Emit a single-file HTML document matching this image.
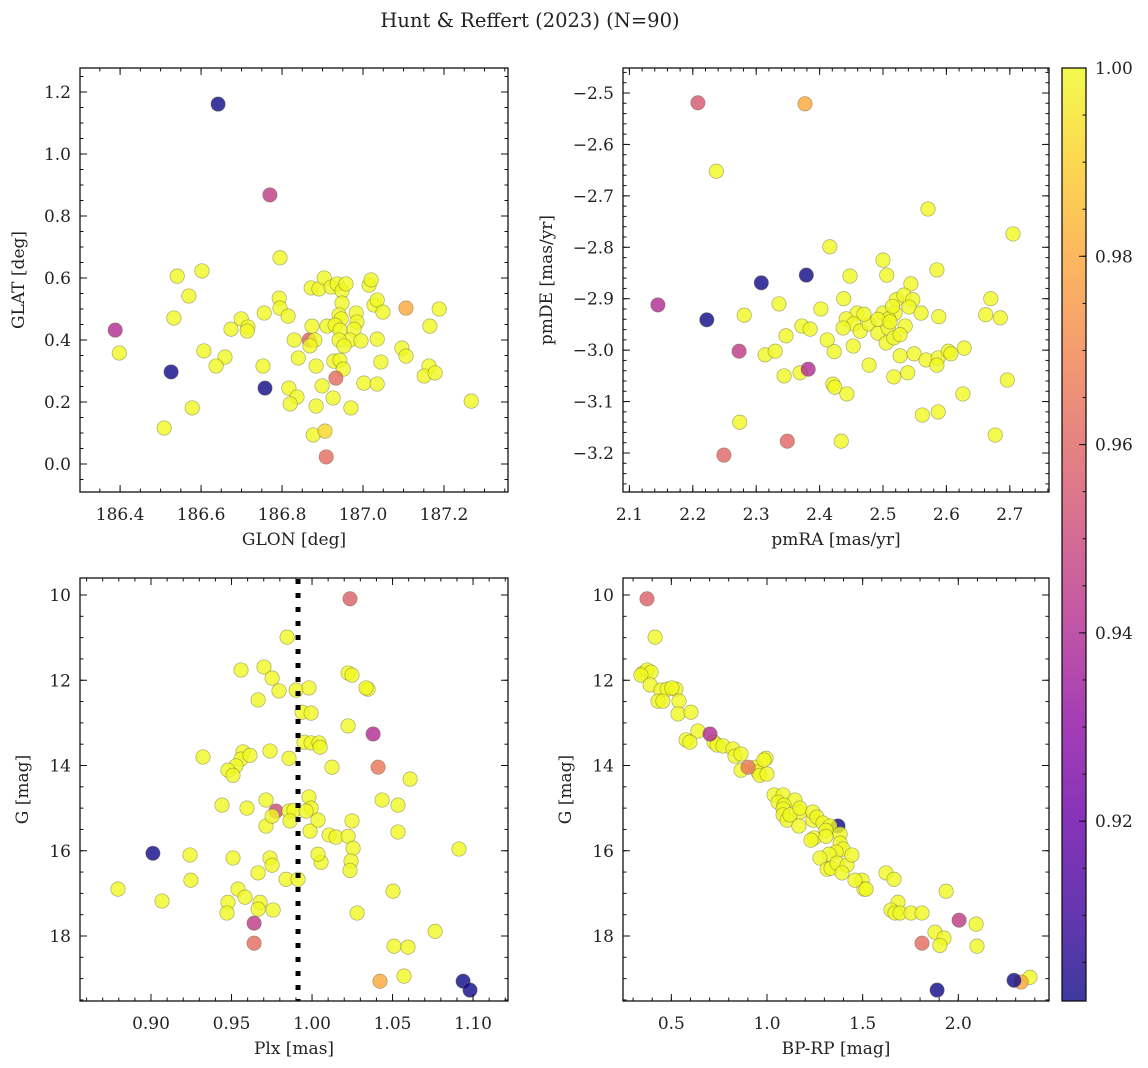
<!DOCTYPE html>
<html><head><meta charset="utf-8"><style>
html,body{margin:0;padding:0;background:#fff;}
svg{display:block;font-family:"DejaVu Serif","Liberation Serif",serif;}
</style></head><body>
<svg id="fig" width="1148" height="1068" viewBox="0 0 1148 1068" xmlns="http://www.w3.org/2000/svg">
<text x="530" y="27" text-anchor="middle" font-size="19.5" fill="#222">Hunt &amp; Reffert (2023) (N=90)</text>
</svg>
<script>
// ---------- Panel 1: GLON vs GLAT ----------
const p1Lon=[186.642,186.77,186.388,186.526,186.758,187.106,186.867,186.933,186.909,186.906,
186.795,186.872,186.891,186.904,186.921,186.936,186.948,186.958,187.015,187.02,186.793,186.795,186.815,186.756,186.948,187.027,187.035,187.049,186.983,186.941,186.946,186.911,186.931,186.943,186.985,186.978,186.968,186.941,186.953,186.995,187.035,186.874,186.83,186.881,186.869,186.84,186.884,186.753,186.928,186.943,186.951,187.044,187.096,187.106,187.165,187.188,187.163,187.151,187.178,187.002,187.035,186.899,186.926,186.817,186.837,186.82,186.884,186.97,186.877,186.659,186.674,186.699,186.716,186.714,186.398,186.509,186.533,186.541,186.57,186.578,186.602,186.607,186.637,187.267];
const p1Lat=[1.161,0.868,0.432,0.297,0.245,0.503,0.4,0.277,0.023,0.106,
0.665,0.568,0.565,0.6,0.571,0.581,0.558,0.581,0.577,0.594,0.535,0.503,0.477,0.487,0.519,0.513,0.529,0.49,0.487,0.481,0.468,0.445,0.448,0.432,0.458,0.435,0.4,0.4,0.381,0.397,0.403,0.445,0.4,0.4,0.381,0.342,0.316,0.316,0.332,0.335,0.306,0.329,0.374,0.348,0.445,0.5,0.316,0.284,0.294,0.261,0.258,0.252,0.213,0.245,0.216,0.194,0.187,0.181,0.094,0.345,0.435,0.468,0.442,0.429,0.358,0.116,0.471,0.606,0.542,0.181,0.623,0.365,0.316,0.203];
const p1Prob=[0.901,0.945,0.94,0.901,0.901,0.98,0.958,0.962,0.962,0.992,
1,1,1,1,1,1,1,1,1,1,1,1,1,1,1,1,1,1,1,1,1,1,1,1,1,1,1,1,1,1,1,1,1,1,1,1,1,1,1,1,1,1,1,1,1,1,1,1,1,1,1,1,1,1,1,1,1,1,1,1,1,1,1,1,1,1,1,1,1,1,1,1,1,1];
const p1XTicks=[186.4,186.6,186.8,187.0,187.2];
const p1YTicks=[0.0,0.2,0.4,0.6,0.8,1.0,1.2];
const p1Under=[6];

// ---------- Panel 2: pmRA vs pmDE ----------
const p2Pmra=[2.308,2.379,2.222,2.273,2.382,2.349,2.249,2.208,2.377,2.145,
2.571,2.705,2.416,2.5,2.506,2.448,2.585,2.544,2.438,2.336,2.281,2.402,2.521,2.533,2.547,2.541,2.56,2.588,2.67,2.662,2.685,2.5,2.519,2.509,2.459,2.442,2.454,2.437,2.464,2.478,2.492,2.508,2.535,2.505,2.517,2.372,2.385,2.347,2.412,2.423,2.453,2.314,2.33,2.478,2.527,2.549,2.568,2.587,2.585,2.603,2.607,2.628,2.344,2.369,2.421,2.424,2.443,2.517,2.539,2.696,2.626,2.562,2.587,2.274,2.434,2.677,2.237,2.492,2.511,2.527,2.47,2.515];
const p2Pmde=[-2.869,-2.854,-2.941,-3.002,-3.037,-3.177,-3.204,-2.519,-2.521,-2.912,
-2.7255,-2.774,-2.799,-2.825,-2.854,-2.856,-2.844,-2.871,-2.9,-2.91,-2.932,-2.92,-2.902,-2.893,-2.902,-2.916,-2.928,-2.935,-2.9,-2.931,-2.937,-2.928,-2.928,-2.939,-2.928,-2.939,-2.949,-2.957,-2.963,-2.949,-2.967,-2.957,-2.953,-2.986,-2.976,-2.953,-2.959,-2.972,-2.98,-3.003,-2.992,-3.009,-3.002,-3.029,-3.011,-3.007,-3.019,-3.015,-3.029,-3.002,-3.007,-2.996,-3.05,-3.044,-3.066,-3.072,-3.085,-3.052,-3.044,-3.058,-3.085,-3.126,-3.12,-3.14,-3.177,-3.165,-2.652,-2.94,-2.945,-2.97,-2.93,-2.915];
const p2Prob=[0.901,0.901,0.901,0.945,0.94,0.96,0.96,0.955,0.98,0.94,
1,1,1,1,1,1,1,1,1,1,1,1,1,1,1,1,1,1,1,1,1,1,1,1,1,1,1,1,1,1,1,1,1,1,1,1,1,1,1,1,1,1,1,1,1,1,1,1,1,1,1,1,1,1,1,1,1,1,1,1,1,1,1,1,1,1,1,1,1,1,1,1];
const p2XTicks=[2.1,2.2,2.3,2.4,2.5,2.6,2.7];
const p2YTicks=[-3.2,-3.1,-3.0,-2.9,-2.8,-2.7,-2.6,-2.5];
const p2Under=[];

// ---------- Panel 3: Plx vs G ----------
const p3Plx=[1.0236,1.0379,1.041,0.9012,0.964,0.964,1.0422,1.0938,1.0981,0.9776,
0.9845,0.9559,0.9702,0.9752,0.9901,0.9795,0.9938,0.9994,0.9665,1.0348,1.0224,1.0248,1.0335,0.9981,0.995,0.9994,1.0043,1.005,1.0224,0.9857,0.9323,0.9571,0.9559,0.9528,0.9478,0.9509,0.9739,1.0124,0.9981,0.9994,0.9441,0.9596,0.9714,0.9752,0.9857,0.9888,0.9963,0.9714,0.9863,0.9988,1.0037,1.0106,1.0149,1.0224,1.0248,1.0435,1.0534,1.0609,1.0534,1.0255,1.0242,1.0236,1.0056,1.0037,0.9739,0.9752,0.9665,0.9242,0.9509,0.9248,0.954,0.9478,0.9584,0.9839,0.9068,0.8795,0.9472,0.9677,0.9758,0.9913,1.028,1.0503,1.0509,1.0596,1.0571,1.0764,1.0913,0.9665,0.9615];
const p3G=[10.09,13.26,14.04,16.06,17.7,18.17,19.06,19.06,19.27,15.07,
10.99,11.76,11.69,11.95,12.23,12.25,12.75,12.77,12.46,12.21,11.83,11.88,12.18,12.18,13.45,13.47,13.47,13.57,13.07,13.83,13.8,13.68,13.85,14.01,14.11,14.23,13.66,14.04,14.74,15.0,14.93,15.0,15.42,15.19,15.07,15.05,15.07,14.81,15.3,15.54,15.28,15.63,15.68,15.66,15.3,14.81,14.93,14.32,15.56,15.94,16.24,16.46,16.27,16.08,16.17,16.34,16.52,16.1,16.17,16.69,16.9,17.21,17.09,16.67,17.18,16.9,17.46,17.21,17.39,16.67,17.46,16.95,18.24,18.26,18.94,17.89,15.96,17.37,13.76];
const p3Prob=[0.958,0.94,0.965,0.901,0.945,0.962,0.98,0.901,0.901,0.95,
1,1,1,1,1,1,1,1,1,1,1,1,1,1,1,1,1,1,1,1,1,1,1,1,1,1,1,1,1,1,1,1,1,1,1,1,1,1,1,1,1,1,1,1,1,1,1,1,1,1,1,1,1,1,1,1,1,1,1,1,1,1,1,1,1,1,1,1,1,1,1,1,1,1,1,1,1,1,1];
const p3XTicks=[0.90,0.95,1.00,1.05,1.10];
const p3YTicks=[10,12,14,16,18];
const p3PlxRef=[0.9913];
const p3Under=[9];

// ---------- Panel 4: BP-RP vs G ----------
const p4Bprp=[0.373,0.702,0.901,1.371,1.889,2.004,1.81,2.328,2.291,
2.375,0.415,0.352,0.373,0.394,0.341,0.389,0.446,0.478,0.43,0.524,0.503,0.456,0.54,0.535,0.603,0.639,0.577,0.597,0.723,0.739,0.77,0.822,0.833,0.864,0.864,0.942,0.995,0.953,0.963,1.0,0.984,1.037,1.084,1.058,1.146,1.172,1.089,1.084,1.084,1.105,1.12,1.24,1.172,1.24,1.261,1.293,1.329,1.167,1.246,1.23,1.308,1.308,1.382,1.382,1.397,1.361,1.324,1.277,1.314,1.335,1.366,1.418,1.444,1.392,1.497,1.507,1.46,1.518,1.622,1.664,1.685,1.648,1.669,1.695,1.753,1.81,1.878,1.936,1.925,2.093,2.098,1.904];
const p4G=[10.09,13.26,14.04,15.42,19.27,17.63,18.17,19.08,19.04,
18.97,10.99,11.83,11.76,11.81,11.88,12.11,12.23,12.21,12.49,12.21,12.18,12.49,12.49,12.79,12.75,13.19,13.4,13.45,13.45,13.52,13.54,13.61,13.78,13.73,14.11,14.04,13.83,14.15,14.23,14.2,13.87,14.69,14.69,14.86,14.81,15.09,14.93,15.02,15.16,15.28,15.16,15.28,15.0,15.09,15.21,15.35,15.42,15.42,15.7,15.75,15.52,15.66,15.61,15.82,15.96,16.03,16.08,16.17,16.43,16.41,16.29,16.34,16.1,16.52,16.69,16.9,16.69,16.9,16.52,16.67,17.21,17.39,17.46,17.46,17.46,17.46,17.91,16.95,18.05,17.72,18.24,18.22];
const p4Prob=[0.958,0.94,0.965,0.901,0.901,0.945,0.962,0.98,0.901,
1,1,1,1,1,1,1,1,1,1,1,1,1,1,1,1,1,1,1,1,1,1,1,1,1,1,1,1,1,1,1,1,1,1,1,1,1,1,1,1,1,1,1,1,1,1,1,1,1,1,1,1,1,1,1,1,1,1,1,1,1,1,1,1,1,1,1,1,1,1,1,1,1,1,1,1,1,1,1,1,1,1,1,1];
const p4XTicks=[0.5,1.0,1.5,2.0];
const p4YTicks=[10,12,14,16,18];
const p4Under=[3];

// ---------- Colorbar ----------
const cbTicks=[0.92,0.94,0.96,0.98,1.00];
const cbRange=[0.9009,1.0];

const NS="http://www.w3.org/2000/svg";
const svg=document.getElementById('fig');
function el(tag,attrs,parent){const e=document.createElementNS(NS,tag);for(const k in attrs)e.setAttribute(k,attrs[k]);(parent||svg).appendChild(e);return e;}

const plasmaStops=[[0,[13,8,135]],[0.1,[65,4,157]],[0.2,[106,0,168]],[0.3,[143,13,164]],[0.4,[177,42,144]],[0.5,[204,71,120]],[0.6,[225,100,98]],[0.7,[242,132,75]],[0.8,[252,166,54]],[0.9,[252,206,37]],[1,[240,249,33]]];
function plasma(t){t=Math.max(0,Math.min(1,t));for(let i=1;i<plasmaStops.length;i++){const [a,ca]=plasmaStops[i-1],[b,cb]=plasmaStops[i];if(t<=b){const f=(t-a)/(b-a);return 'rgb('+ca.map((c,j)=>Math.round(c+(cb[j]-c)*f)).join(',')+')';}}return 'rgb(240,249,33)';}
function probColor(p){return plasma((p-cbRange[0])/(cbRange[1]-cbRange[0]));}

function fmt(v,d){return v.toFixed(d).replace('-','\u2212');}
const FS=17;

function panel(o){
  const g=el('g',{});
  
  
  const sx=v=>o.x0+(v-o.xmin)/(o.xmax-o.xmin)*(o.x1-o.x0);
  const sy=o.inv? v=>o.y0+(v-o.ymin)/(o.ymax-o.ymin)*(o.y1-o.y0) : v=>o.y1-(v-o.ymin)/(o.ymax-o.ymin)*(o.y1-o.y0);
  const under=o.under||[];
  const rest=o.xs.map((_,i)=>i).filter(i=>under.indexOf(i)<0).sort((a,b)=>o.ps[b]-o.ps[a]);
  const idx=under.concat(rest);
  const pg=el('g',{},g);
  
  
  idx.forEach(i=>{
    const c=el('circle',{cx:sx(o.xs[i]).toFixed(1),cy:sy(o.ys[i]).toFixed(1),r:7.2,fill:probColor(o.ps[i]),'fill-opacity':0.8,stroke:'#6a6a40','stroke-opacity':0.55,'stroke-width':0.7},pg);
    
    
  });
  if(o.vline){o.vline.forEach(v=>{const l=el('line',{x1:sx(v),x2:sx(v),y1:o.y0+1,y2:o.y1,stroke:'#000','stroke-width':5,'stroke-dasharray':'5 9'},g);
    
    });}
  const tg=el('g',{stroke:'#111','stroke-width':1},g);
  function ticksX(vals,len){vals.forEach(v=>{const x=sx(v);if(x<o.x0-0.5||x>o.x1+0.5)return;el('line',{x1:x,x2:x,y1:o.y1,y2:o.y1-len},tg);el('line',{x1:x,x2:x,y1:o.y0,y2:o.y0+len},tg);});}
  function ticksY(vals,len){vals.forEach(v=>{const y=sy(v);if(y<o.y0-0.5||y>o.y1+0.5)return;el('line',{y1:y,y2:y,x1:o.x0,x2:o.x0+len},tg);el('line',{y1:y,y2:y,x1:o.x1,x2:o.x1-len},tg);});}
  const minX=[];for(let k=Math.ceil(o.xmin/o.xminor);k*o.xminor<=o.xmax;k++)minX.push(k*o.xminor);
  const minY=[];for(let k=Math.ceil(o.ymin/o.yminor);k*o.yminor<=o.ymax;k++)minY.push(k*o.yminor);
  ticksX(minX,3.5);ticksY(minY,3.5);ticksX(o.xticks,7);ticksY(o.yticks,7);
  el('rect',{x:o.x0,y:o.y0,width:o.x1-o.x0,height:o.y1-o.y0,fill:'none',stroke:'#111','stroke-width':1.3},g);
  o.xticks.forEach(v=>{const t=el('text',{x:sx(v),y:o.y1+28,'text-anchor':'middle','font-size':FS,fill:'#222'},g);t.textContent=fmt(v,o.xd);
    });
  o.yticks.forEach(v=>{const t=el('text',{x:o.x0-9,y:sy(v)+6,'text-anchor':'end','font-size':FS,fill:'#222'},g);t.textContent=fmt(v,o.yd);
    });
  const xt=el('text',{x:(o.x0+o.x1)/2,y:o.y1+53,'text-anchor':'middle','font-size':FS,fill:'#222'},g);xt.textContent=o.xlabel;
  
  const yc=(o.y0+o.y1)/2;
  const yt=el('text',{x:o.ytx,y:yc,'text-anchor':'middle','font-size':FS,fill:'#222',transform:'rotate(-90 '+o.ytx+' '+yc+')'},g);yt.textContent=o.ylabel;
  
}

panel({name:'glon-glat-panel',x0:80,x1:508,y0:68,y1:492,xmin:186.301,xmax:187.358,ymin:-0.0903,ymax:1.2774,xs:p1Lon,ys:p1Lat,ps:p1Prob,under:p1Under,xticks:p1XTicks,yticks:p1YTicks,xminor:0.05,yminor:0.05,xd:1,yd:1,xlabel:'GLON [deg]',ylabel:'GLAT [deg]',ytx:24});
panel({name:'proper-motion-panel',x0:623,x1:1049,y0:68,y1:492,xmin:2.0899,xmax:2.7618,ymin:-3.2758,ymax:-2.4514,xs:p2Pmra,ys:p2Pmde,ps:p2Prob,under:p2Under,xticks:p2XTicks,yticks:p2YTicks,xminor:0.02,yminor:0.02,xd:1,yd:1,xlabel:'pmRA [mas/yr]',ylabel:'pmDE [mas/yr]',ytx:552});
panel({name:'parallax-mag-panel',x0:80,x1:508,y0:578,y1:1001,xmin:0.8559,xmax:1.1217,ymin:9.601,ymax:19.525,inv:true,xs:p3Plx,ys:p3G,ps:p3Prob,under:p3Under,xticks:p3XTicks,yticks:p3YTicks,xminor:0.01,yminor:0.5,xd:2,yd:0,xlabel:'Plx [mas]',ylabel:'G [mag]',ytx:28,vline:p3PlxRef});
panel({name:'cmd-panel',x0:623,x1:1049,y0:578,y1:1001,xmin:0.2473,xmax:2.4741,ymin:9.601,ymax:19.525,inv:true,xs:p4Bprp,ys:p4G,ps:p4Prob,under:p4Under,xticks:p4XTicks,yticks:p4YTicks,xminor:0.1,yminor:0.5,xd:1,yd:0,xlabel:'BP-RP [mag]',ylabel:'G [mag]',ytx:571});

(function(){
  const x0=1062,x1=1086,y0=68,y1=1001;
  const g=el('g',{});
  
  
  const defs=el('defs',{},g);
  const lg=el('linearGradient',{id:'cbgrad',x1:0,y1:1,x2:0,y2:0},defs);
  plasmaStops.forEach(([t])=>{el('stop',{offset:t,'stop-color':plasma(t),'stop-opacity':0.8},lg);});
  el('rect',{x:x0,y:y0,width:x1-x0,height:y1-y0,fill:'url(#cbgrad)'},g);
  const sy=v=>y1-(v-cbRange[0])/(cbRange[1]-cbRange[0])*(y1-y0);
  for(let k=Math.ceil(cbRange[0]/0.005-1e-6);k*0.005<=cbRange[1]+1e-9;k++){const y=sy(k*0.005);el('line',{x1:x1,x2:x1-3.5,y1:y,y2:y,stroke:'#111'},g);}
  cbTicks.forEach(v=>{const y=sy(v);el('line',{x1:x1,x2:x1-7,y1:y,y2:y,stroke:'#111'},g);
    const t=el('text',{x:x1+9,y:y+6,'font-size':FS,fill:'#222'},g);t.textContent=v.toFixed(2);
    });
  el('rect',{x:x0,y:y0,width:x1-x0,height:y1-y0,fill:'none',stroke:'#111','stroke-width':1.3},g);
})();
</script>
</body></html>
